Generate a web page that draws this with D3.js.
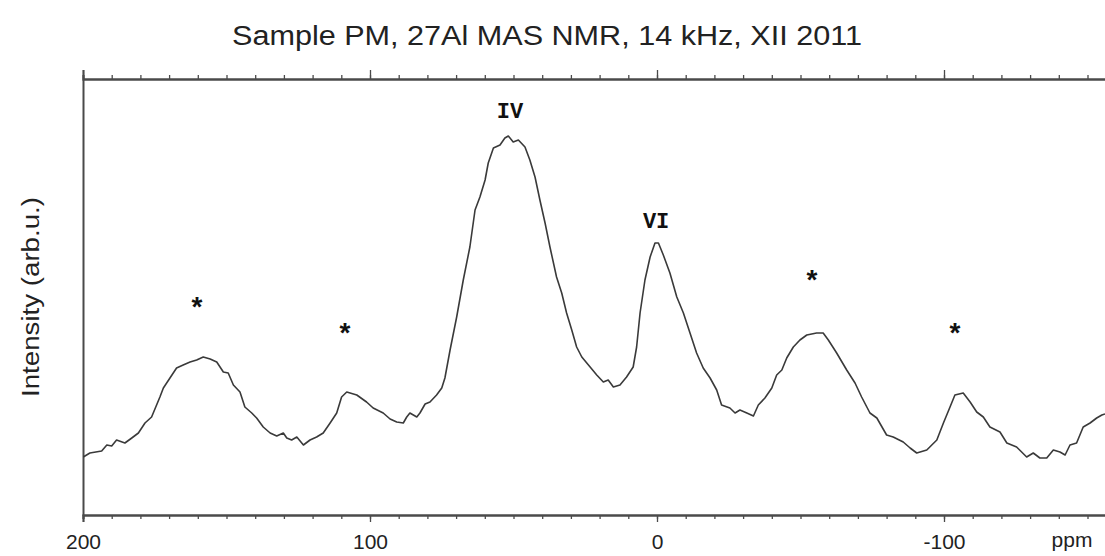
<!DOCTYPE html>
<html>
<head>
<meta charset="utf-8">
<script src="https://cdn.jsdelivr.net/npm/d3@7"></script>
<style>
	body { margin: 0; background: #ffffff; }
	svg { display: block; }
</style>
</head>
<body>
<div id="chart"></div>
<script>
// spectrum (chemical shift in ppm, intensity in arb. units)
const ppm = [199.9, 197.6, 193.5, 191.7, 190.0, 188.3, 185.4, 183.0, 180.7, 178.4,
	176.1, 173.2, 172.0, 169.7, 167.4, 165.1, 162.7, 160.4, 158.1, 155.7,
	153.4, 151.1, 149.4, 147.6, 145.3, 143.6, 141.2, 139.5, 137.2, 134.8,
	132.5, 130.2, 129.0, 127.3, 125.5, 123.2, 120.9, 118.6, 116.3, 113.9,
	111.6, 109.9, 108.1, 104.6, 101.2, 98.9, 95.4, 93.0, 90.7, 88.4,
	87.2, 86.1, 83.7, 82.6, 80.8, 79.1, 76.8, 75.0, 73.9, 72.1,
	69.8, 67.5, 65.2, 63.4, 61.7, 59.9, 58.8, 57.0, 54.7, 53.0,
	51.8, 50.1, 48.3, 46.0, 44.3, 42.5, 40.8, 39.0, 37.3, 35.0,
	33.2, 31.5, 29.7, 28.0, 26.2, 23.3, 21.0, 18.7, 17.0, 15.2,
	12.9, 10.6, 8.3, 7.1, 5.9, 4.2, 2.4, 0.7, -0.5, -2.2,
	-4.5, -6.9, -9.2, -11.5, -13.8, -16.1, -18.5, -20.8, -22.5, -25.4,
	-27.2, -28.9, -31.3, -33.6, -35.3, -37.6, -40.0, -41.7, -43.5, -45.2,
	-47.5, -49.8, -52.2, -55.6, -57.9, -59.7, -62.6, -66.1, -69.0, -71.3,
	-74.2, -76.6, -80.0, -82.3, -85.8, -88.2, -90.5, -94.0, -97.5, -99.8,
	-102.1, -103.8, -106.7, -109.1, -111.4, -113.7, -116.0, -119.5, -121.9, -125.3,
	-128.8, -131.1, -133.4, -135.8, -138.1, -140.4, -142.2, -143.9, -146.2, -148.5,
	-150.9, -153.2, -155.0, -156.1];
const intensity = [58, 62, 64, 70, 69, 75, 72, 77, 82, 92,
	98, 118, 127, 137, 147, 150, 153, 155, 158, 156,
	153, 143, 142, 130, 123, 108, 102, 97, 88, 82,
	79, 82, 77, 75, 78, 70, 75, 78, 82, 92,
	102, 118, 123, 120, 113, 107, 102, 96, 93, 92,
	98, 102, 98, 102, 111, 113, 120, 127, 137, 165,
	198, 235, 268, 305, 318, 335, 352, 367, 370, 377,
	379, 373, 375, 368, 355, 338, 315, 292, 268, 238,
	222, 202, 185, 168, 158, 148, 140, 133, 135, 128,
	130, 138, 148, 168, 202, 235, 258, 272, 272, 260,
	242, 218, 202, 182, 162, 147, 137, 125, 110, 107,
	102, 105, 102, 99, 110, 117, 127, 140, 145, 157,
	168, 175, 180, 182, 182, 175, 162, 145, 132, 118,
	102, 97, 80, 78, 73, 67, 62, 65, 75, 92,
	108, 120, 122, 113, 103, 98, 88, 83, 72, 68,
	58, 62, 57, 57, 65, 63, 60, 70, 72, 88,
	92, 97, 100, 101];

const majorTicks = [200, 100, 0, -100];
const minorTicks = [200, 190, 180, 170, 160, 150, 140, 130, 120, 110, 100, 90, 80, 70, 60, 50,
	40, 30, 20, 10, 0, -10, -20, -30, -40, -50, -60, -70, -80, -90, -100, -110, -120, -130, -140, -150];

// coordination labels above the central lines
const siteLabels = ['IV', 'VI'];
const sitePpm = [51.2, 0.3];
const siteHeight = [397, 287];

// spinning sidebands
const sidebandPpm = [160.3, 108.7, -54.0, -103.8];
const sidebandHeight = [215, 189, 242, 189];

const titleText = 'Sample PM, 27Al MAS NMR, 14 kHz, XII 2011';

const W = 1105, H = 556;
const frame = { left: 83, top: 79, bottom: 515 };

const x = d3.scaleLinear().domain([200, -100]).range([frame.left, 944]);
const y = d3.scaleLinear().domain([0, 436]).range([frame.bottom, frame.top]);
const xEnd = x.invert(W + 4);
x.domain([200, xEnd]).range([frame.left, W + 4]);

const svg = d3.select('#chart').append('svg')
	.attr('width', W)
	.attr('height', H);

svg.append('rect').attr('width', W).attr('height', H).attr('fill', '#ffffff');

const frameCol = '#4a4a4a';

// bottom axis: minor ticks, then majors with labels
const bottomMinor = svg.append('g')
	.attr('transform', `translate(0,${frame.bottom})`)
	.call(d3.axisBottom(x).tickValues(minorTicks).tickSize(4).tickFormat(''));
const bottomMajor = svg.append('g')
	.attr('transform', `translate(0,${frame.bottom})`)
	.call(d3.axisBottom(x).tickValues(majorTicks).tickSize(7).tickFormat(d => String(d)));

// top axis, ticks pointing outward, no labels
const topMinor = svg.append('g')
	.attr('transform', `translate(0,${frame.top})`)
	.call(d3.axisTop(x).tickValues(minorTicks).tickSize(4).tickFormat(''));
const topMajor = svg.append('g')
	.attr('transform', `translate(0,${frame.top})`)
	.call(d3.axisTop(x).tickValues(majorTicks).tickSize(9).tickFormat(''));

// left frame line (no ticks on the intensity axis)
const leftAxis = svg.append('g')
	.attr('transform', `translate(${frame.left},0)`)
	.call(d3.axisLeft(y).tickValues([]).tickSize(0));

[bottomMinor, bottomMajor, topMinor, topMajor, leftAxis].forEach(g => {
	g.select('.domain').attr('stroke', frameCol).attr('stroke-width', 2);
	g.selectAll('.tick line').attr('stroke', frameCol).attr('stroke-width', 1.3);
});

bottomMajor.selectAll('.tick text')
	.attr('y', 34)
	.attr('dy', 0)
	.attr('font-family', 'Liberation Sans, Arial, sans-serif')
	.attr('font-size', '21px')
	.attr('fill', '#222222');

svg.append('text')
	.attr('x', 1072)
	.attr('y', 547)
	.attr('text-anchor', 'middle')
	.attr('font-family', 'Liberation Sans, Arial, sans-serif')
	.attr('font-size', '21px')
	.attr('fill', '#222222')
	.text('ppm');

// title
svg.append('text')
	.attr('x', 547)
	.attr('y', 45)
	.attr('text-anchor', 'middle')
	.attr('font-family', 'Liberation Sans, Arial, sans-serif')
	.attr('font-size', '27px')
	.attr('fill', '#222222')
	.attr('textLength', 630)
	.attr('lengthAdjust', 'spacingAndGlyphs')
	.text(titleText);

// y label
svg.append('text')
	.attr('transform', 'translate(39,297) rotate(-90)')
	.attr('text-anchor', 'middle')
	.attr('font-family', 'Liberation Sans, Arial, sans-serif')
	.attr('font-size', '23px')
	.attr('fill', '#222222')
	.attr('textLength', 200)
	.attr('lengthAdjust', 'spacingAndGlyphs')
	.text('Intensity (arb.u.)');

// spectrum
const spectrum = ppm.map((p, i) => ({ p: p, v: intensity[i] }));

const lineFunction = d3.line()
	.x(d => x(d.p))
	.y(d => y(d.v));

svg.append('path')
	.datum(spectrum)
	.attr('d', lineFunction)
	.attr('fill', 'none')
	.attr('stroke', '#3a3a3a')
	.attr('stroke-width', 1.6)
	.attr('stroke-linejoin', 'round');

// IV / VI labels
svg.selectAll('.site')
	.data(siteLabels)
	.enter()
	.append('text')
	.attr('class', 'site')
	.attr('x', (d, i) => x(sitePpm[i]))
	.attr('y', (d, i) => y(siteHeight[i]))
	.attr('text-anchor', 'middle')
	.attr('font-family', 'Liberation Mono, Courier New, monospace')
	.attr('font-weight', 'bold')
	.attr('font-size', '22px')
	.attr('fill', '#111111')
	.text(d => d);

// sideband asterisks (values are the glyph centres)
svg.selectAll('.sb')
	.data(sidebandPpm)
	.enter()
	.append('text')
	.attr('class', 'sb')
	.attr('x', d => x(d))
	.attr('y', (d, i) => y(sidebandHeight[i]) + 16)
	.attr('text-anchor', 'middle')
	.attr('font-family', 'Liberation Sans, Arial, sans-serif')
	.attr('font-weight', 'bold')
	.attr('font-size', '28px')
	.attr('fill', '#111111')
	.text('*');
</script>
</body>
</html>
